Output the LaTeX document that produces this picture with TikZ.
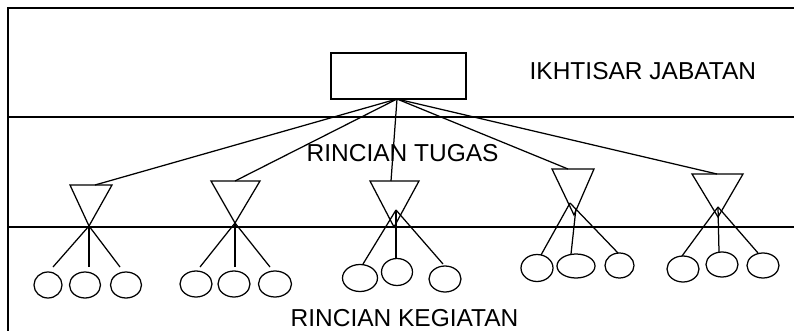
\documentclass[tikz,border=0pt]{standalone}
\usepackage{fontspec}
\setmainfont{Liberation Sans}
\usetikzlibrary{shapes.geometric}
\begin{document}
\begin{tikzpicture}[x=1pt,y=-1pt,line width=1.25pt,line join=miter,
  lbl/.style={anchor=base west,inner sep=0pt,font=\fontsize{24.5}{28}\selectfont},
  oval/.style={draw,ellipse,inner sep=0pt},
  tri/.style={draw},
  link/.style={draw}]
\useasboundingbox (0,0) rectangle (794,331);
% frame and band lines
\coordinate (fTL) at (8,8); \coordinate (fTR) at (794,8); \coordinate (fBL) at (8,331);
\coordinate (m1L) at (8,117); \coordinate (m1R) at (794,117);
\coordinate (m2L) at (8,227); \coordinate (m2R) at (794,227);
\draw (fBL) -- (fTL) -- (fTR);
\draw (m1L) -- (m1R);
\draw (m2L) -- (m2R);
% labels
\node[lbl] (ikh) at (529,80) {IKHTISAR JABATAN};
\node[lbl] (rt) at (306,162) {RINCIAN TUGAS};
\node[lbl,text depth=0pt] (rk) at (290,326.5) {RINCIAN KEGIATAN};
% top box
\node[draw,minimum width=135pt,minimum height=46pt,inner sep=0pt] (box) at (398.5,76) {};
\coordinate (hub) at (397,99);
% group 1
\coordinate (l1) at (70,185); \coordinate (r1) at (112,185); \coordinate (a1) at (89,226);
\coordinate (t1) at (95,185); \coordinate (c1) at (89,226);
\coordinate (p11) at (53,267); \coordinate (p12) at (89,267); \coordinate (p13) at (120,267);
\node[oval,minimum width=28pt,minimum height=26pt] (e11) at (48,285) {};
\node[oval,minimum width=31pt,minimum height=26pt] (e12) at (85,285) {};
\node[oval,minimum width=31pt,minimum height=26pt] (e13) at (126,285) {};
% group 2
\coordinate (l2) at (211,181); \coordinate (r2) at (260,181); \coordinate (a2) at (235,223);
\coordinate (t2) at (235,181); \coordinate (c2) at (235,223);
\coordinate (p21) at (200,267); \coordinate (p22) at (235,267); \coordinate (p23) at (270,267);
\node[oval,minimum width=32pt,minimum height=26pt] (e21) at (196,284) {};
\node[oval,minimum width=32pt,minimum height=26pt] (e22) at (234,284) {};
\node[oval,minimum width=33pt,minimum height=26pt] (e23) at (275,284) {};
% group 3
\coordinate (l3) at (370,181); \coordinate (r3) at (419,181); \coordinate (a3) at (394,227);
\coordinate (t3) at (391,181); \coordinate (c3) at (396,210); \coordinate (d3) at (396,210);
\coordinate (p31) at (363,264); \coordinate (p32) at (396,259); \coordinate (p33) at (443,264);
\node[oval,minimum width=35pt,minimum height=27pt] (e31) at (360,278) {};
\node[oval,minimum width=31pt,minimum height=27pt] (e32) at (397,272) {};
\node[oval,minimum width=32pt,minimum height=26pt] (e33) at (445,279) {};
% group 4
\coordinate (l4) at (552,169); \coordinate (r4) at (594,169); \coordinate (a4) at (574,215);
\coordinate (t4) at (568,169); \coordinate (c4) at (570,203); \coordinate (d4) at (576,208);
\coordinate (p41) at (541,255); \coordinate (p42) at (571,254); \coordinate (p43) at (618,253);
\node[oval,minimum width=32pt,minimum height=27pt] (e41) at (537,268) {};
\node[oval,minimum width=38pt,minimum height=24pt] (e42) at (576,266) {};
\node[oval,minimum width=29pt,minimum height=25pt] (e43) at (619.5,265.5) {};
% group 5
\coordinate (l5) at (692,174); \coordinate (r5) at (743,174); \coordinate (a5) at (718,217);
\coordinate (t5) at (717,174); \coordinate (c5) at (718,207);
\coordinate (p51) at (682,256); \coordinate (p52) at (719,252); \coordinate (p53) at (758,253);
\node[oval,minimum width=32pt,minimum height=26pt] (e51) at (683,269) {};
\node[oval,minimum width=32pt,minimum height=25pt] (e52) at (722,264.5) {};
\node[oval,minimum width=32pt,minimum height=25pt] (e53) at (763,265.5) {};
% triangles
\draw[tri] (l1) -- (r1) -- (a1) -- cycle;
\draw[tri] (l2) -- (r2) -- (a2) -- cycle;
\draw[tri] (l3) -- (r3) -- (a3) -- cycle;
\draw[tri] (l4) -- (r4) -- (a4) -- cycle;
\draw[tri] (l5) -- (r5) -- (a5) -- cycle;
% connectors from box
\draw[link] (hub) -- (t1);
\draw[link] (hub) -- (t2);
\draw[link] (hub) -- (t3);
\draw[link] (hub) -- (t4);
\draw[link] (hub) -- (t5);
% connectors from triangles to activities
\draw[link] (p11) -- (c1); \draw[link] (p12) -- (c1); \draw[link] (p13) -- (c1);
\draw[link] (p21) -- (c2); \draw[link] (p22) -- (c2); \draw[link] (p23) -- (c2);
\draw[link] (p31) -- (c3); \draw[link] (p32) -- (d3); \draw[link] (p33) -- (c3);
\draw[link] (p41) -- (c4); \draw[link] (p42) -- (d4); \draw[link] (p43) -- (c4);
\draw[link] (p51) -- (c5); \draw[link] (p52) -- (c5); \draw[link] (p53) -- (c5);
\end{tikzpicture}
\end{document}
